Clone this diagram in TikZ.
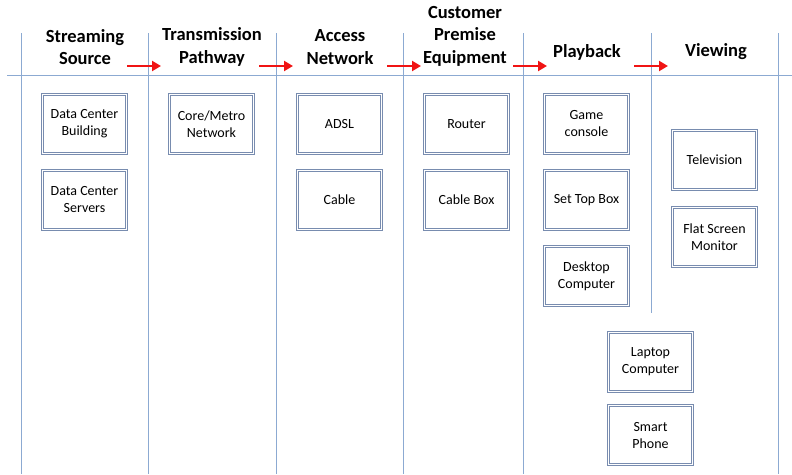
\documentclass[tikz,border=0pt]{standalone}
\usepackage{fontspec}
\setmainfont{Carlito}
\usepackage{tikz}
\usetikzlibrary{shapes,arrows.meta}

\definecolor{gridblue}{RGB}{140,170,210}
\definecolor{boxblue}{RGB}{120,140,175}
\definecolor{flowred}{RGB}{240,20,20}

\tikzset{
  device/.style={draw=boxblue, double=white, line width=0.8pt, double distance=1.3pt,
    minimum width=84pt, minimum height=59pt, align=center, font=\fontsize{14}{17}\selectfont},
  stage/.style={align=center, font=\fontsize{18.5}{22.5}\selectfont\bfseries},
  flow/.style={draw=flowred, line width=2.8pt, -{Triangle[length=9pt,width=10pt]}},
  lane/.style={draw=gridblue, line width=0.9pt}
}

\begin{document}
\begin{tikzpicture}[x=1pt,y=-1pt]
        \useasboundingbox (0,0) rectangle (792,474);
        \draw[lane] (7,75) -- (792,75); % header line
        \foreach \x in {21,148,276,403,523,778}
          \draw[lane] (\x,33) -- (\x,474); % lanes
        \draw[lane] (651,33) -- (651,313);
        % stage titles
        \node[stage] (src) at (85,47) {Streaming\\Source};
        \node[stage] (path) at (212,47) {Transmission\\Pathway};
        \node[stage] (acc) at (340,47) {Access\\Network};
        \node[stage] (cpe) at (465,36) {Customer\\Premise\\Equipment};
        \node[stage] (play) at (587,52) {Playback};
        \node[stage] (view) at (716,52) {Viewing};
        % arrows between stages
        \coordinate (a1) at (127,66); \coordinate (b1) at (161,66);
        \coordinate (a2) at (259,66); \coordinate (b2) at (293,66);
        \coordinate (a3) at (387,66); \coordinate (b3) at (421,66);
        \coordinate (a4) at (513,66); \coordinate (b4) at (547,66);
        \coordinate (a5) at (634,66); \coordinate (b5) at (668,66);
        \foreach \i in {1,...,5}
          \draw[flow] (a\i) -- (b\i);
        % devices
        \node[device] (dcb) at (84.5,124) {Data Center\\Building};
        \node[device] (dcs) at (84.5,200) {Data Center\\Servers};
        \node[device] (core) at (211.5,124) {Core/Metro\\Network};
        \node[device] (adsl) at (339.5,124) {ADSL};
        \node[device] (cable) at (339.5,200) {Cable};
        \node[device] (router) at (466.5,124) {Router};
        \node[device] (cbox) at (466.5,200) {Cable Box};
        \node[device] (game) at (586.5,124) {Game\\console};
        \node[device] (stb) at (586.5,200) {Set Top Box};
        \node[device] (desk) at (586.5,276) {Desktop\\Computer};
        \node[device] (tv) at (714.5,160) {Television};
        \node[device] (flat) at (714.5,237) {Flat Screen\\Monitor};
        \node[device] (laptop) at (650.5,362) {Laptop\\Computer};
        \node[device] (phone) at (650.5,435) {Smart\\Phone};
\end{tikzpicture}
\end{document}
